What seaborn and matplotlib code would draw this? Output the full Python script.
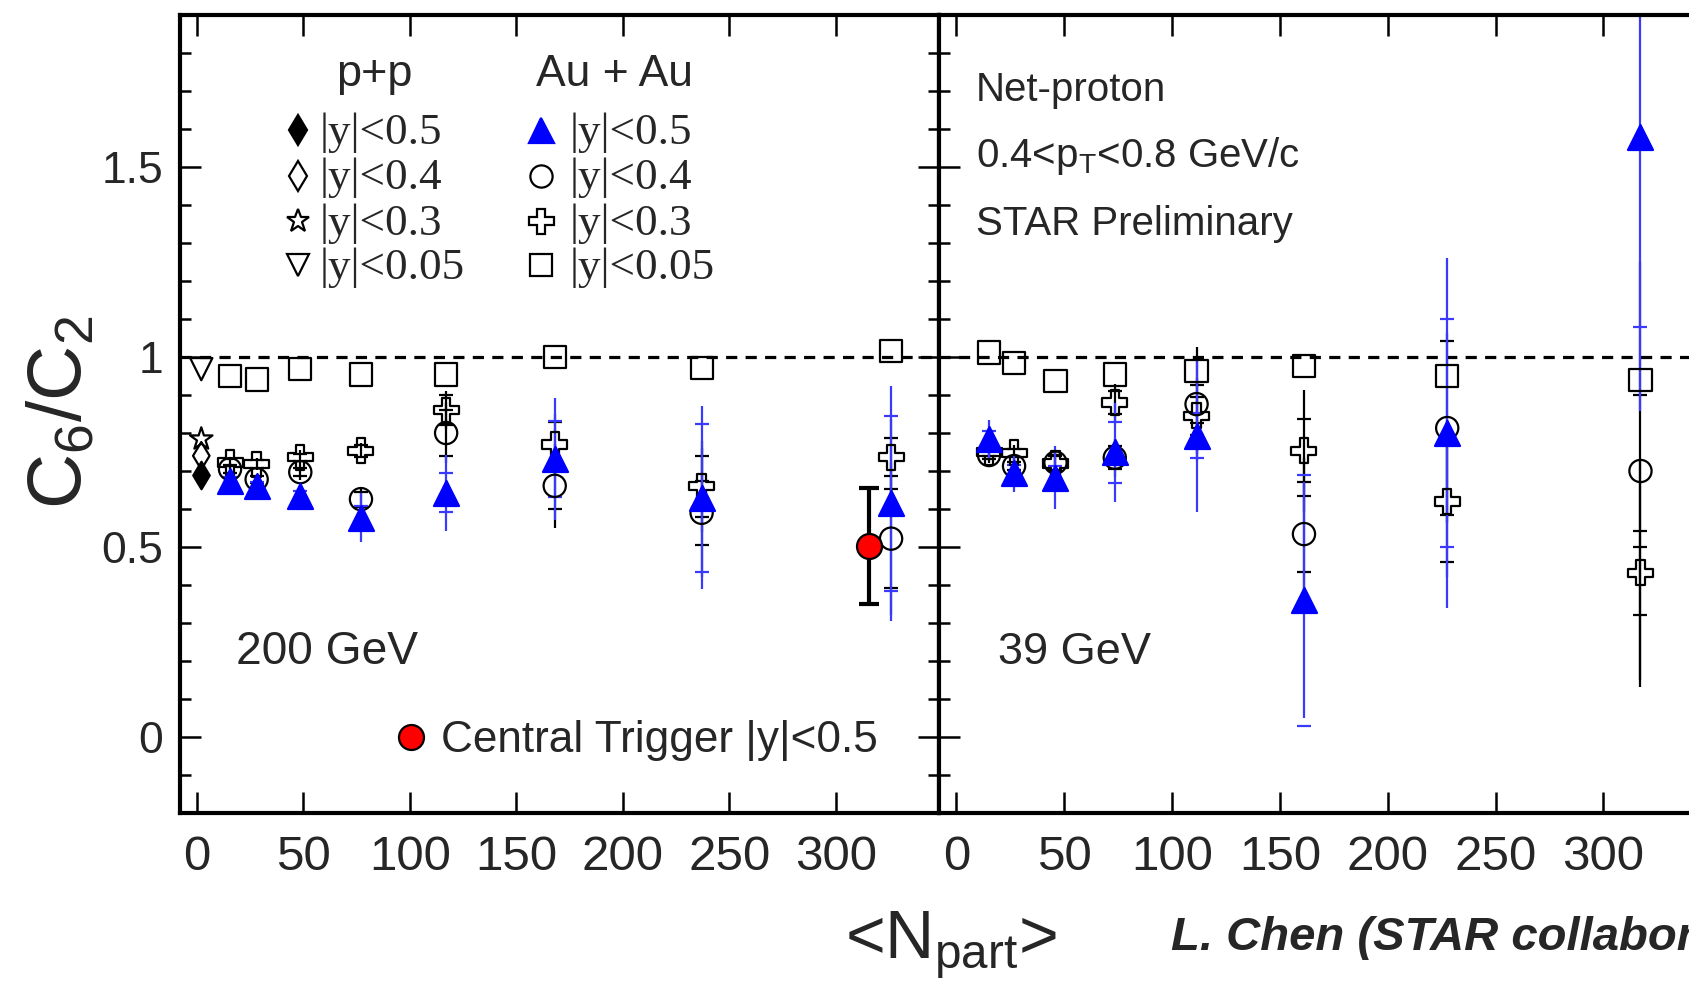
import numpy as np
import pandas as pd
import matplotlib
matplotlib.use("Agg")
import matplotlib.pyplot as plt
from matplotlib.ticker import MultipleLocator, FixedLocator
import seaborn as sns

# ---------------- data: 200 GeV ----------------
npart_200 = [15.5, 28, 48.5, 77, 117, 168, 237, 326]
y05_200 = [0.674, 0.661, 0.635, 0.577, 0.643, 0.731, 0.630, 0.615]
y05_200_stat = [0.02, 0.02, 0.025, 0.065, 0.10, 0.16, 0.24, 0.31]
y05_200_sys = [0.01, 0.01, 0.012, 0.03, 0.052, 0.10, 0.195, 0.23]
y04_200 = [0.705, 0.678, 0.697, 0.626, 0.800, 0.661, 0.590, 0.522]
y04_200_stat = [0.015, 0.015, 0.02, 0.03, 0.08, 0.11, 0.17, 0.20]
y04_200_sys = [0.01, 0.01, 0.01, 0.02, 0.06, 0.06, 0.085, 0.13]
y03_200 = [0.722, 0.718, 0.736, 0.753, 0.860, 0.770, 0.660, 0.736]
y03_200_stat = [0.015, 0.015, 0.02, 0.02, 0.05, 0.08, 0.12, 0.10]
y03_200_sys = [0.01, 0.01, 0.01, 0.015, 0.04, 0.06, 0.08, 0.05]
y005_200 = [0.950, 0.941, 0.968, 0.954, 0.954, 1.000, 0.972, 1.015]

# p+p 200 GeV
npart_pp = [2]
pp_y05 = [0.690]
pp_y04 = [0.740]
pp_y03 = [0.784]
pp_y005 = [0.968]

# central trigger 200 GeV
npart_ct = [315.7]
ct_y05 = [0.503]
ct_y05_err = [0.153]

# ---------------- data: 39 GeV ----------------
npart_39 = [15.2, 26.8, 46, 73.5, 111.4, 161.2, 227.6, 317.2]
y05_39 = [0.785, 0.695, 0.682, 0.749, 0.793, 0.360, 0.800, 1.578]
y05_39_stat = [0.05, 0.05, 0.083, 0.13, 0.20, 0.31, 0.46, 0.72]
y05_39_sys = [0.02, 0.02, 0.03, 0.08, 0.06, 0.33, 0.30, 0.50]
y04_39 = [0.742, 0.713, 0.722, 0.735, 0.876, 0.534, 0.813, 0.700]
y04_39_stat = [0.02, 0.02, 0.03, 0.05, 0.15, 0.20, 0.25, 0.55]
y04_39_sys = [0.01, 0.01, 0.02, 0.03, 0.05, 0.10, 0.23, 0.20]
y03_39 = [0.750, 0.748, 0.720, 0.880, 0.845, 0.753, 0.620, 0.432]
y03_39_stat = [0.02, 0.02, 0.03, 0.05, 0.10, 0.16, 0.20, 0.30]
y03_39_sys = [0.01, 0.01, 0.02, 0.03, 0.05, 0.083, 0.16, 0.11]
y005_39 = [1.012, 0.985, 0.937, 0.954, 0.963, 0.976, 0.950, 0.940]

xtick_vals = [0, 50, 100, 150, 200, 250, 300]
ytick_vals = [0, 0.5, 1, 1.5]
ytick_labels = ["0", "0.5", "1", "1.5"]

# ---------------- style ----------------
sns.set_theme(style="ticks")
plt.rcParams["font.family"] = ["Liberation Sans", "DejaVu Sans"]
plt.rcParams["mathtext.fontset"] = "custom"
plt.rcParams["mathtext.rm"] = "Liberation Sans"
plt.rcParams["mathtext.it"] = "Liberation Sans:italic"
plt.rcParams["mathtext.bf"] = "Liberation Sans:bold"

W, H = 1689, 982
fig = plt.figure(figsize=(W / 100, H / 100), dpi=100)
fig.patch.set_facecolor("white")

def ax_rect(x0, x1, y0, y1):
    return [x0 / W, 1 - y1 / H, (x1 - x0) / W, (y1 - y0) / H]

ax1 = fig.add_axes(ax_rect(180, 939, 15, 813))
ax2 = fig.add_axes(ax_rect(939, 1708, 15, 813))

BLUE = "#0000ff"
BLUE_E = "#3a3aff"
LW = 1.6

def series(ax, x, y, marker, ms, face, edge, stat=None, sys_=None, ecol="black", z=3):
    if stat is not None:
        ax.errorbar(x, y, yerr=stat, fmt="none", ecolor=ecol, elinewidth=LW,
                    capsize=0, zorder=2)
    if sys_ is not None:
        ax.errorbar(x, y, yerr=sys_, fmt="none", ecolor=ecol, elinewidth=0,
                    capsize=5, capthick=LW, zorder=2)
    sns.scatterplot(x=x, y=y, ax=ax, marker=marker, s=ms ** 2, facecolor=face,
                    edgecolor=edge, linewidth=LW, zorder=z, legend=False)

for ax in (ax1, ax2):
    ax.set_xlim(-8, 348.5)
    ax.set_ylim(-0.2, 1.9)
    ax.axhline(1.0, color="black", lw=2.3, ls=(0, (3.5, 2.6)), zorder=1)
    ax.xaxis.set_major_locator(FixedLocator(xtick_vals))
    ax.yaxis.set_major_locator(FixedLocator(ytick_vals))
    ax.yaxis.set_minor_locator(MultipleLocator(0.1))
    ax.tick_params(which="both", direction="in", top=True, right=True,
                   bottom=True, left=True, width=1.8, color="black")
    ax.tick_params(which="major", length=15)
    ax.tick_params(which="minor", length=8)
    ax.tick_params(axis="x", which="major", labelsize=35.5, pad=16)
    ax.tick_params(axis="y", which="major", labelsize=32, pad=12)
    for sp in ax.spines.values():
        sp.set_linewidth(3)
        sp.set_color("black")
    ax.set_xlabel("")
    ax.set_ylabel("")
    ax.set_facecolor("white")

ax1.set_yticklabels(ytick_labels)
ax2.tick_params(axis="y", which="both", labelleft=False, right=False)

# ---- 200 GeV panel ----
series(ax1, npart_200, y005_200, "s", 16, "none", "black")
series(ax1, npart_200, y03_200, "P", 18, "none", "black", y03_200_stat, y03_200_sys)
series(ax1, npart_200, y04_200, "o", 16, "none", "black", y04_200_stat, y04_200_sys)
series(ax1, npart_200, y05_200, "^", 18, BLUE, BLUE, y05_200_stat, y05_200_sys, ecol=BLUE_E, z=4)
series(ax1, npart_pp, pp_y005, "v", 16, "none", "black")
series(ax1, npart_pp, pp_y03, "*", 17, "none", "black")
series(ax1, npart_pp, pp_y04, "d", 14, "none", "black")
series(ax1, npart_pp, pp_y05, "d", 14, "black", "black")
ax1.errorbar(npart_ct, ct_y05, yerr=ct_y05_err, fmt="none", ecolor="black",
             elinewidth=3, capsize=7, capthick=3, zorder=4)
sns.scatterplot(x=npart_ct, y=ct_y05, ax=ax1, marker="o", s=18 ** 2, facecolor="red",
                edgecolor="black", linewidth=LW, zorder=5, legend=False)

# ---- 39 GeV panel ----
series(ax2, npart_39, y005_39, "s", 16, "none", "black")
series(ax2, npart_39, y03_39, "P", 18, "none", "black", y03_39_stat, y03_39_sys)
series(ax2, npart_39, y04_39, "o", 16, "none", "black", y04_39_stat, y04_39_sys)
series(ax2, npart_39, y05_39, "^", 18, BLUE, BLUE, y05_39_stat, y05_39_sys, ecol=BLUE_E, z=4)

# ---- legend (left panel) ----
def axpos1(px, py):
    return ((px - 180) / 759, (813 - py) / 798)

def axpos2(px, py):
    return ((px - 939) / 769, (813 - py) / 798)

tx, ty = axpos1(374, 86)
ax1.text(tx, ty, "p+p", transform=ax1.transAxes, ha="center", va="baseline", fontsize=32.5)
tx, ty = axpos1(615, 86)
ax1.text(tx, ty, "Au + Au", transform=ax1.transAxes, ha="center", va="baseline", fontsize=32)

row_base = [144, 189.5, 235, 279]
row_mark = [130, 175.5, 221, 265]
labels = ["|y|<0.5", "|y|<0.4", "|y|<0.3", "|y|<0.05"]
pp_styles = [("d", 15, "black"), ("d", 15, "none"), ("*", 17, "none"), ("v", 16, "none")]
au_styles = [("^", 18, BLUE, BLUE), ("o", 16, "none", "black"), ("P", 18, "none", "black"),
             ("s", 16, "none", "black")]
SERIF = ["Liberation Serif", "DejaVu Serif"]
for i in range(4):
    mx, my = axpos1(298, row_mark[i])
    m, ms, fc = pp_styles[i]
    ax1.plot([mx], [my], marker=m, ms=ms, mfc=fc, mec="black", mew=LW, ls="none",
             transform=ax1.transAxes, clip_on=False)
    lx, ly = axpos1(320, row_base[i])
    ax1.text(lx, ly, labels[i], transform=ax1.transAxes, ha="left", va="baseline",
             fontsize=32.5, family=SERIF)
    mx, my = axpos1(541, row_mark[i])
    m, ms, fc, ec = au_styles[i]
    ax1.plot([mx], [my], marker=m, ms=ms, mfc=fc, mec=ec, mew=LW, ls="none",
             transform=ax1.transAxes, clip_on=False)
    lx, ly = axpos1(570, row_base[i])
    ax1.text(lx, ly, labels[i], transform=ax1.transAxes, ha="left", va="baseline",
             fontsize=32.5, family=SERIF)

tx, ty = axpos1(236, 664)
ax1.text(tx, ty, "200 GeV", transform=ax1.transAxes, ha="left", va="baseline", fontsize=33.2)
mx, my = axpos1(411, 737)
ax1.plot([mx], [my], marker="o", ms=18, mfc="red", mec="black", mew=LW, ls="none",
         transform=ax1.transAxes, clip_on=False)
tx, ty = axpos1(441, 752)
ax1.text(tx, ty, "Central Trigger |y|<0.5", transform=ax1.transAxes, ha="left",
         va="baseline", fontsize=31.8)

# ---- right panel annotations ----
for txt, base in [("Net-proton", 101), ("0.4<p$_\\mathrm{T}$<0.8 GeV/c", 167),
                  ("STAR Preliminary", 235)]:
    tx, ty = axpos2(976, base)
    ax2.text(tx, ty, txt, transform=ax2.transAxes, ha="left", va="baseline", fontsize=29)
tx, ty = axpos2(998, 664)
ax2.text(tx, ty, "39 GeV", transform=ax2.transAxes, ha="left", va="baseline", fontsize=32.5)

# ---- axis labels ----
fig.text(62 / W, 1 - 412 / H, "C$_\\mathrm{6}$/C$_\\mathrm{2}$", rotation=90,
         ha="center", va="center", fontsize=55)
fig.text(951 / W, 1 - 958 / H, "<N$_\\mathrm{part}$>", ha="center", va="baseline",
         fontsize=49)
fig.text(1171 / W, 1 - 950 / H, "L. Chen (STAR collaboration)", ha="left",
         va="baseline", fontsize=34, fontweight="bold", fontstyle="italic")

fig.savefig("out.png", dpi=100, facecolor="white")
